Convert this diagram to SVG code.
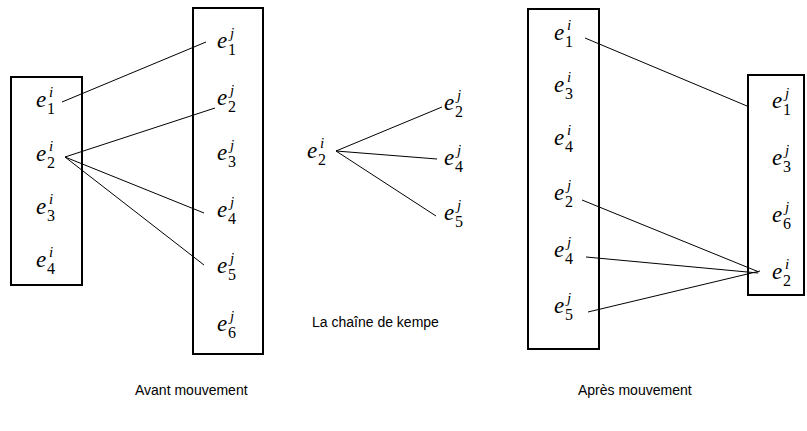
<svg xmlns="http://www.w3.org/2000/svg" width="807" height="431" viewBox="0 0 807 431">
<style>
.box{fill:none;stroke:#000;stroke-width:2}
.ln{stroke:#000;stroke-width:1;fill:none}
.e{font-family:"Liberation Serif","DejaVu Serif",serif;font-style:italic;font-size:23px;fill:#000}
.s{font-family:"Liberation Serif","DejaVu Serif",serif;font-style:italic;font-size:15px;fill:#000}
.n{font-family:"Liberation Serif","DejaVu Serif",serif;font-size:16px;fill:#000}
.cap{font-family:"Liberation Sans","Open Sans",sans-serif;font-size:14px;fill:#000}
</style>
<rect width="807" height="431" fill="#fff"/>
<g id="avant-gauche">
<rect class="box" x="11" y="77" width="71" height="208"/>
<text class="e" x="36" y="107">e</text><text class="s" x="49" y="97">i</text><text class="n" x="47" y="114">1</text>
<text class="e" x="36" y="161">e</text><text class="s" x="49" y="151">i</text><text class="n" x="47" y="168">2</text>
<text class="e" x="36" y="214">e</text><text class="s" x="49" y="204">i</text><text class="n" x="47" y="221">3</text>
<text class="e" x="36" y="267">e</text><text class="s" x="49" y="257">i</text><text class="n" x="47" y="274">4</text>
</g>
<g id="avant-droite">
<rect class="box" x="193" y="8" width="70" height="346"/>
<text class="e" x="217" y="48">e</text><text class="s" x="230" y="38">j</text><text class="n" x="228" y="55">1</text>
<text class="e" x="217" y="105">e</text><text class="s" x="230" y="95">j</text><text class="n" x="228" y="112">2</text>
<text class="e" x="217" y="160">e</text><text class="s" x="230" y="150">j</text><text class="n" x="228" y="167">3</text>
<text class="e" x="217" y="217">e</text><text class="s" x="230" y="207">j</text><text class="n" x="228" y="224">4</text>
<text class="e" x="217" y="273">e</text><text class="s" x="230" y="263">j</text><text class="n" x="228" y="280">5</text>
<text class="e" x="217" y="331">e</text><text class="s" x="230" y="321">j</text><text class="n" x="228" y="338">6</text>
</g>
<g id="chaine">
<text class="e" x="307" y="158">e</text><text class="s" x="320" y="148">i</text><text class="n" x="318" y="165">2</text>
<text class="e" x="444" y="110">e</text><text class="s" x="457" y="100">j</text><text class="n" x="455" y="117">2</text>
<text class="e" x="444" y="165">e</text><text class="s" x="457" y="155">j</text><text class="n" x="455" y="172">4</text>
<text class="e" x="444" y="220">e</text><text class="s" x="457" y="210">j</text><text class="n" x="455" y="227">5</text>
</g>
<g id="apres-gauche">
<rect class="box" x="528" y="9" width="71" height="340"/>
<text class="e" x="554" y="40">e</text><text class="s" x="567" y="30">i</text><text class="n" x="565" y="47">1</text>
<text class="e" x="554" y="92">e</text><text class="s" x="567" y="82">i</text><text class="n" x="565" y="99">3</text>
<text class="e" x="554" y="145">e</text><text class="s" x="567" y="135">i</text><text class="n" x="565" y="152">4</text>
<text class="e" x="554" y="200">e</text><text class="s" x="567" y="190">j</text><text class="n" x="565" y="207">2</text>
<text class="e" x="554" y="257">e</text><text class="s" x="567" y="247">j</text><text class="n" x="565" y="264">4</text>
<text class="e" x="554" y="313">e</text><text class="s" x="567" y="303">j</text><text class="n" x="565" y="320">5</text>
</g>
<g id="apres-droite">
<rect class="box" x="748" y="75" width="56" height="220"/>
<text class="e" x="772" y="108">e</text><text class="s" x="785" y="98">j</text><text class="n" x="783" y="115">1</text>
<text class="e" x="772" y="165">e</text><text class="s" x="785" y="155">j</text><text class="n" x="783" y="172">3</text>
<text class="e" x="772" y="222">e</text><text class="s" x="785" y="212">j</text><text class="n" x="783" y="229">6</text>
<text class="e" x="772" y="279">e</text><text class="s" x="785" y="269">i</text><text class="n" x="783" y="286">2</text>
</g>
<g id="connecteurs">
<line class="ln" x1="62" y1="102" x2="206" y2="42"/>
<line class="ln" x1="65" y1="157" x2="215" y2="108"/>
<line class="ln" x1="65" y1="157" x2="204" y2="213"/>
<line class="ln" x1="65" y1="157" x2="204" y2="265"/>
<line class="ln" x1="336" y1="151" x2="442" y2="107"/>
<line class="ln" x1="336" y1="151" x2="437" y2="159"/>
<line class="ln" x1="336" y1="151" x2="436" y2="216"/>
<line class="ln" x1="585" y1="38" x2="747" y2="106"/>
<line class="ln" x1="582" y1="200" x2="759" y2="272"/>
<line class="ln" x1="586" y1="257" x2="758" y2="273"/>
<line class="ln" x1="588" y1="312" x2="760" y2="271"/>
</g>
<g id="legendes">
<text class="cap" x="312" y="327">La chaîne de kempe</text>
<text class="cap" x="135" y="395">Avant mouvement</text>
<text class="cap" x="578" y="395">Après mouvement</text>
</g>
</svg>
